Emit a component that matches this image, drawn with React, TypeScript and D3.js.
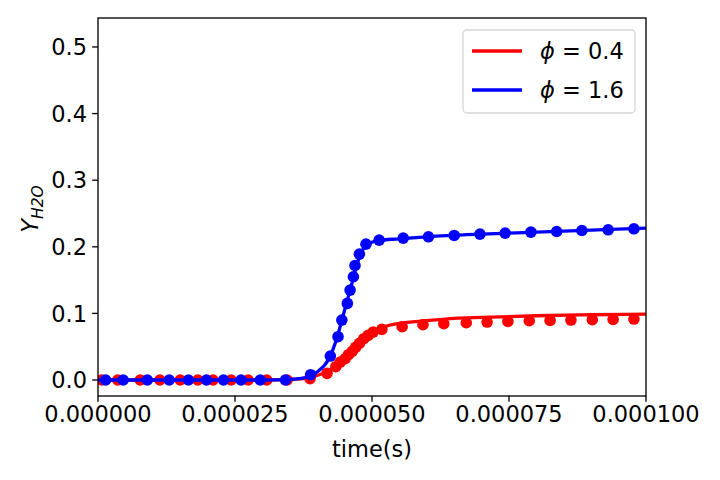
import React from 'react';
import * as d3 from 'd3';

// simulation curves
const redLineT = [0, 3.0e-5, 3.5e-5, 3.8e-5, 4.0e-5, 4.2e-5, 4.4e-5, 4.6e-5, 4.8e-5, 5.0e-5, 5.2e-5, 5.5e-5, 6.0e-5, 6.5e-5, 7.0e-5, 8.0e-5, 9.0e-5, 1.0e-4];
const redLineY = [0, 0, 0.001, 0.003, 0.007, 0.013, 0.024, 0.039, 0.056, 0.070, 0.079, 0.085, 0.089, 0.0925, 0.094, 0.0965, 0.098, 0.099];
const blueLineT = [0, 3.0e-5, 3.5e-5, 3.8e-5, 4.0e-5, 4.2e-5, 4.35e-5, 4.45e-5, 4.55e-5, 4.65e-5, 4.75e-5, 4.85e-5, 4.95e-5, 5.1e-5, 5.5e-5, 6.0e-5, 7.0e-5, 8.0e-5, 9.0e-5, 1.0e-4];
const blueLineY = [0, 0, 0.001, 0.004, 0.012, 0.03, 0.06, 0.09, 0.12, 0.15, 0.18, 0.198, 0.205, 0.209, 0.212, 0.215, 0.219, 0.222, 0.225, 0.228];

// reference points
const redDotT = [0.7e-6, 3.6e-6, 7.7e-6, 1.13e-5, 1.50e-5, 1.82e-5, 2.10e-5, 2.43e-5, 2.74e-5, 3.08e-5, 3.45e-5, 3.87e-5, 4.18e-5, 4.34e-5, 4.42e-5, 4.51e-5, 4.57e-5, 4.64e-5, 4.70e-5, 4.77e-5, 4.85e-5, 4.93e-5, 5.02e-5, 5.18e-5, 5.55e-5, 5.93e-5, 6.31e-5, 6.72e-5, 7.10e-5, 7.48e-5, 7.87e-5, 8.25e-5, 8.63e-5, 9.02e-5, 9.40e-5, 9.78e-5];
const redDotY = [0, 0, 0, 0, 0, 0, 0, 0, 0, 0, 0, 0.002, 0.010, 0.020, 0.027, 0.032, 0.038, 0.043, 0.049, 0.055, 0.062, 0.067, 0.072, 0.076, 0.080, 0.083, 0.0845, 0.086, 0.087, 0.088, 0.089, 0.0895, 0.090, 0.0905, 0.091, 0.0915];
const blueDotT = [1.4e-6, 4.6e-6, 9.0e-6, 1.30e-5, 1.65e-5, 1.98e-5, 2.29e-5, 2.61e-5, 2.96e-5, 3.42e-5, 3.88e-5, 4.24e-5, 4.38e-5, 4.45e-5, 4.55e-5, 4.60e-5, 4.66e-5, 4.69e-5, 4.77e-5, 4.89e-5, 5.13e-5, 5.57e-5, 6.03e-5, 6.50e-5, 6.97e-5, 7.43e-5, 7.90e-5, 8.37e-5, 8.83e-5, 9.31e-5, 9.78e-5];
const blueDotY = [0, 0, 0, 0, 0, 0, 0, 0, 0, 0, 0.008, 0.036, 0.065, 0.090, 0.115, 0.135, 0.155, 0.172, 0.189, 0.204, 0.210, 0.213, 0.215, 0.217, 0.219, 0.2205, 0.222, 0.223, 0.2245, 0.2255, 0.227];

const xTicks = [0, 2.5e-5, 5e-5, 7.5e-5, 1e-4];
const yTicks = [0, 0.1, 0.2, 0.3, 0.4, 0.5];
const legendLabels = ['0.4', '1.6'];
const colors = ['#ff0000', '#0000ff'];

const W = 720;
const H = 480;
const margin = { top: 18, right: 74, bottom: 84, left: 98 };
const font = '"DejaVu Sans", sans-serif';
const fs = 22.5;

export default function App() {
    const innerW = W - margin.left - margin.right;
    const innerH = H - margin.top - margin.bottom;

    const x = d3.scaleLinear().domain([0, 1e-4]).range([0, innerW]);
    const y = d3.scaleLinear().domain([-0.024, 0.5435]).range([innerH, 0]);

    const line = d3.line<[number, number]>()
        .x(d => x(d[0]))
        .y(d => y(d[1]))
        .curve(d3.curveMonotoneX);

    const redLine = redLineT.map((t, i) => [t, redLineY[i]] as [number, number]);
    const blueLine = blueLineT.map((t, i) => [t, blueLineY[i]] as [number, number]);
    const redDots = redDotT.map((t, i) => [t, redDotY[i]]);
    const blueDots = blueDotT.map((t, i) => [t, blueDotY[i]]);

    const fmtX = d3.format('.6f');
    const fmtY = d3.format('.1f');

    return (
        <svg width={W} height={H} style={{ position: 'absolute', left: 0, top: 0, background: '#fff' }} fontFamily={font}>
            <g transform={`translate(${margin.left},${margin.top})`}>
                <defs>
                    <clipPath id="plot">
                        <rect x={0} y={0} width={innerW} height={innerH} />
                    </clipPath>
                </defs>
                <g clipPath="url(#plot)">
                    <path d={line(redLine) || ''} fill="none" stroke={colors[0]} strokeWidth={3.3} />
                    {redDots.map((d, i) => (
                        <circle key={'r' + i} cx={x(d[0])} cy={y(d[1])} r={5.8} fill={colors[0]} />
                    ))}
                    <path d={line(blueLine) || ''} fill="none" stroke={colors[1]} strokeWidth={3.3} />
                    {blueDots.map((d, i) => (
                        <circle key={'b' + i} cx={x(d[0])} cy={y(d[1])} r={5.8} fill={colors[1]} />
                    ))}
                </g>

                {/* axes frame */}
                <rect x={0} y={0} width={innerW} height={innerH} fill="none" stroke="#000" strokeWidth={1.33} />

                {xTicks.map(t => (
                    <g key={t} transform={`translate(${x(t)},${innerH})`}>
                        <line y2={5.8} stroke="#000" strokeWidth={1.33} />
                        <text y={26} textAnchor="middle" fontSize={fs} fill="#000">{fmtX(t)}</text>
                    </g>
                ))}
                {yTicks.map(t => (
                    <g key={t} transform={`translate(0,${y(t)})`}>
                        <line x2={-5.8} stroke="#000" strokeWidth={1.33} />
                        <text x={-11} dy="0.36em" textAnchor="end" fontSize={fs} fill="#000">{fmtY(t)}</text>
                    </g>
                ))}

                <text x={innerW / 2} y={innerH + 61} textAnchor="middle" fontSize={fs} fill="#000">time(s)</text>
                <text transform={`translate(${-60},${innerH / 2 + 2}) rotate(-90)`} textAnchor="middle" fontSize={fs} fill="#000">
                    <tspan fontStyle="italic">Y</tspan>
                    <tspan fontStyle="italic" fontSize={15.5} dy={5}>H2O</tspan>
                </text>

                {/* legend */}
                <g transform={`translate(${innerW - 183},${12})`}>
                    <rect x={0} y={0} width={172} height={83} rx={4} fill="#fff" fillOpacity={0.8} stroke="#d6d6d6" strokeWidth={1.3} />
                    {legendLabels.map((lab, i) => (
                        <g key={lab} transform={`translate(0,${21 + i * 39})`}>
                            <line x1={9} x2={59} stroke={colors[i]} strokeWidth={3.3} />
                            <text x={77} dy="0.36em" fontSize={fs} fill="#000">
                                <tspan fontStyle="italic">ϕ</tspan>
                                <tspan> = {lab}</tspan>
                            </text>
                        </g>
                    ))}
                </g>
            </g>
        </svg>
    );
}
